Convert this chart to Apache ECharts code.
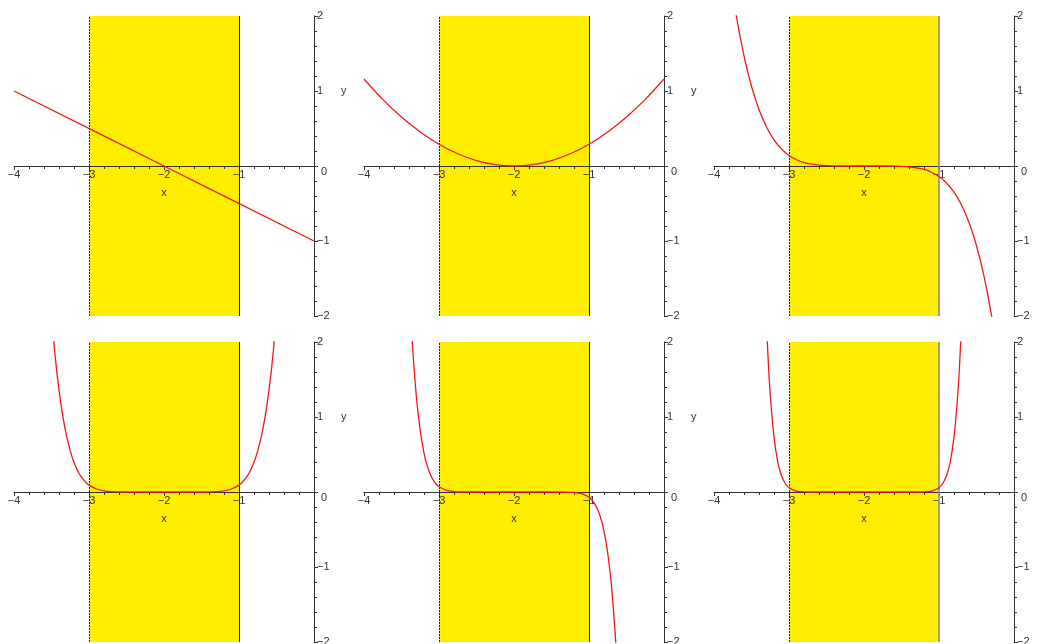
<!DOCTYPE html>
<html>
<head>
<meta charset="utf-8">
<script src="https://cdn.jsdelivr.net/npm/echarts@6/dist/echarts.min.js"></script>
<style>
  html, body { margin: 0; padding: 0; background: #fff; }
  #chart { width: 1040px; height: 644px; }
</style>
</head>
<body>
<div id="chart"></div>
<script>
// Curve samples for each of the six panels (x, y pairs read as lists)
const x1 = [-4, -2, 0];
const y1 = [1, 0, -1];

const x2 = [-4, -3.75, -3.5, -3.25, -3, -2.75, -2.5, -2.25, -2, -1.75, -1.5, -1.25, -1, -0.75, -0.5, -0.25, 0];
const y2 = [1.16, 0.888, 0.653, 0.453, 0.29, 0.163, 0.073, 0.018, 0, 0.018, 0.073, 0.163, 0.29, 0.453, 0.653, 0.888, 1.16];

const x3 = [-3.8, -3.7, -3.6, -3.5, -3.4, -3.3, -3.2, -3.1, -3.0, -2.9, -2.8, -2.7, -2.6, -2.5, -2.4, -2.3, -2.2, -2.1, -2.0,
            -1.9, -1.8, -1.7, -1.6, -1.5, -1.4, -1.3, -1.2, -1.1, -1.0, -0.9, -0.8, -0.7, -0.6, -0.5, -0.4, -0.3, -0.2];
const y3 = [2.645, 1.988, 1.468, 1.063, 0.753, 0.520, 0.348, 0.226, 0.140, 0.083, 0.046, 0.024, 0.011, 0.004, 0.001, 0.000, 0, 0, 0,
            0, 0, -0.000, -0.001, -0.004, -0.011, -0.024, -0.046, -0.083, -0.140, -0.226, -0.348, -0.520, -0.753, -1.063, -1.468, -1.988, -2.645];

const x4 = [-3.5, -3.45, -3.4, -3.35, -3.3, -3.25, -3.2, -3.15, -3.1, -3.05, -3, -2.9, -2.8, -2.7, -2.6, -2.5, -2.3, -2,
            -1.7, -1.5, -1.4, -1.3, -1.2, -1.1, -1, -0.95, -0.9, -0.85, -0.8, -0.75, -0.7, -0.65, -0.6, -0.55, -0.5];
const y4 = [2.358, 1.798, 1.358, 1.015, 0.751, 0.548, 0.396, 0.281, 0.197, 0.136, 0.092, 0.040, 0.015, 0.005, 0.002, 0.000, 0, 0,
            0, 0.000, 0.002, 0.005, 0.015, 0.040, 0.092, 0.136, 0.197, 0.281, 0.396, 0.548, 0.751, 1.015, 1.358, 1.798, 2.358];

const x5 = [-3.4, -3.375, -3.35, -3.3, -3.25, -3.2, -3.15, -3.1, -3.05, -3, -2.9, -2.8, -2.7, -2.5, -2,
            -1.5, -1.3, -1.2, -1.1, -1, -0.95, -0.9, -0.85, -0.8, -0.75, -0.7, -0.65, -0.625, -0.6];
const y5 = [2.835, 2.324, 1.900, 1.255, 0.815, 0.520, 0.326, 0.200, 0.120, 0.070, 0.022, 0.006, 0.001, 0, 0,
            0, -0.001, -0.006, -0.022, -0.070, -0.120, -0.200, -0.326, -0.520, -0.815, -1.255, -1.900, -2.324, -2.835];

const x6 = [-3.3, -3.275, -3.25, -3.2, -3.15, -3.1, -3.05, -3, -2.9, -2.8, -2.7, -2,
            -1.3, -1.2, -1.1, -1, -0.95, -0.9, -0.85, -0.8, -0.75, -0.725, -0.7];
const y6 = [2.244, 1.710, 1.296, 0.732, 0.403, 0.217, 0.113, 0.057, 0.013, 0.003, 0.000, 0,
            0.000, 0.003, 0.013, 0.057, 0.113, 0.217, 0.403, 0.732, 1.296, 1.710, 2.244];

const curveX = [x1, x2, x3, x4, x5, x6];
const curveY = [y1, y2, y3, y4, y5, y6];

// Shaded interval on the x axis
const bandFrom = -3;
const bandTo = -1;

// Axis ranges and tick labels
const xMin = -4, xMax = 0;
const yMin = -2, yMax = 2;
const xTickValues = [-4, -3, -2, -1];
const xTickText = ['\u22124', '\u22123', '\u22122', '\u22121'];
const yTickValues = [-2, -1, 0, 1, 2];
const yTickText = ['\u22122', '\u22121', '0', '1', '2'];
const yTitleLevel = 1;   // the "y" title sits beside this tick

const FONT = '"Liberation Sans", Arial, Helvetica, sans-serif';
const FS = 11;
const INK = '#333';
const PANEL = 300;

const chart = echarts.init(document.getElementById('chart'), null, { renderer: 'canvas' });

const grids = [], xAxes = [], yAxes = [], series = [];
for (let i = 0; i < 6; i++) {
  const col = i % 3, row = Math.floor(i / 3);
  grids.push({ left: 14 + 350 * col, top: 16 + 326 * row, width: PANEL, height: PANEL,
               containLabel: false, outerBoundsMode: 'none' });

  // horizontal axis drawn through the middle of the panel (y = 0)
  xAxes.push({
    gridIndex: i, type: 'value', min: xMin, max: xMax, interval: 1, z: 3,
    position: 'bottom', offset: -PANEL / 2,
    axisLine: { onZero: false, lineStyle: { color: INK, width: 1 } },
    axisTick: { length: 4, lineStyle: { color: INK } },
    minorTick: { show: true, splitNumber: 5, length: 3, lineStyle: { color: INK } },
    splitLine: { show: false },
    axisLabel: {
      margin: 3, fontSize: FS, color: INK, fontFamily: FONT,
      formatter: v => { const k = xTickValues.indexOf(v); return k < 0 ? '' : xTickText[k]; }
    },
    name: 'x', nameLocation: 'middle', nameGap: 21,
    nameTextStyle: { fontSize: FS, color: INK, fontFamily: FONT }
  });

  yAxes.push({
    gridIndex: i, type: 'value', position: 'right', min: yMin, max: yMax, interval: 1, z: 3,
    axisLine: { onZero: false, lineStyle: { color: INK, width: 1 } },
    axisTick: { length: 4, lineStyle: { color: INK } },
    minorTick: { show: true, splitNumber: 5, length: 3, lineStyle: { color: INK } },
    splitLine: { show: false },
    axisLabel: {
      margin: 3, fontSize: FS, color: INK, fontFamily: FONT,
      formatter: v => {
        const k = yTickValues.indexOf(v);
        if (k < 0) return '';
        return v === 0 ? '{z|' + yTickText[k] + '}' : yTickText[k];
      },
      rich: { z: { fontSize: FS, color: INK, fontFamily: FONT, padding: [12, 0, 0, 4] } }
    }
  });

  // yellow interval with its two edge lines
  series.push({
    type: 'line', xAxisIndex: i, yAxisIndex: i, data: [], silent: true, z: 1,
    markArea: {
      silent: true,
      itemStyle: { color: '#FFEE00' },
      data: [[{ xAxis: bandFrom }, { xAxis: bandTo }]]
    },
    markLine: {
      silent: true, symbol: ['none', 'none'], label: { show: false }, animation: false,
      data: [
        { xAxis: bandFrom, lineStyle: { type: [2, 1], color: '#222', width: 1 } },
        { xAxis: bandTo, lineStyle: { type: 'solid', color: col === 2 ? '#8a8a8a' : '#222', width: col === 2 ? 1.6 : 1 } }
      ]
    }
  });

  const xs = curveX[i], ys = curveY[i];
  series.push({
    type: 'line', xAxisIndex: i, yAxisIndex: i, z: 5, clip: true,
    data: xs.map((x, k) => [x, ys[k]]),
    showSymbol: false, smooth: 0.35,
    lineStyle: { color: '#F01818', width: 1.3 }
  });
}

chart.setOption({
  animation: false,
  backgroundColor: '#fff',
  grid: grids,
  xAxis: xAxes,
  yAxis: yAxes,
  series: series
});

// "y" titles beside the vertical axes, placed through each grid's scale
const titles = [];
for (let i = 0; i < 6; i++) {
  const p = chart.convertToPixel({ gridIndex: i }, [xMax, yTitleLevel]);
  titles.push({
    type: 'text', x: p[0] + 27, y: p[1], z: 10, silent: true,
    style: { text: 'y', fill: INK, font: FS + 'px ' + FONT, verticalAlign: 'middle', align: 'left' }
  });
}
chart.setOption({ graphic: titles });
</script>
</body>
</html>
